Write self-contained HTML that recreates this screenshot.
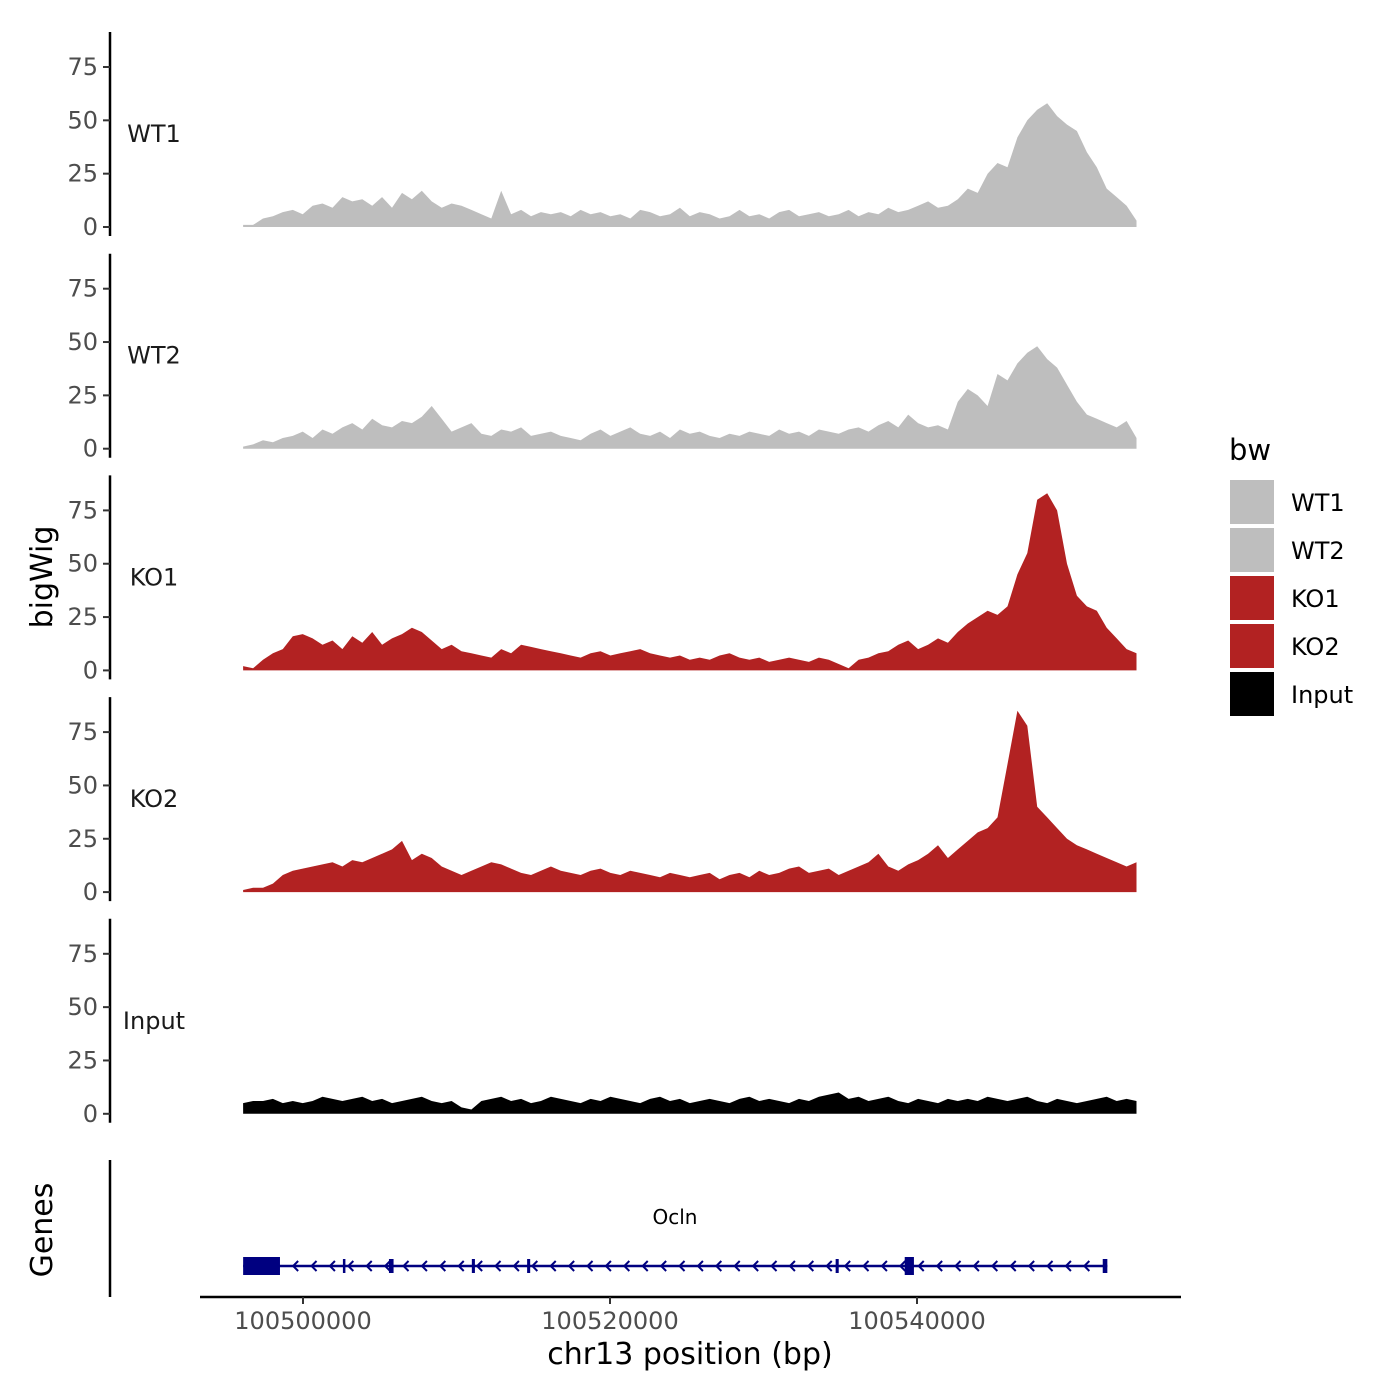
<!DOCTYPE html>
<html><head><meta charset="utf-8"><style>
html,body{margin:0;padding:0;background:#fff;}
svg{display:block;font-family:"DejaVu Sans","Liberation Sans",sans-serif;}
</style></head><body>
<svg id="chart" width="1400" height="1400" viewBox="0 0 1400 1400"></svg>
<script>
const trackNames = ["WT1","WT2","KO1","KO2","Input"];
const trackColors = ["#bebebe","#bebebe","#b22222","#b22222","#000000"];
const yTicks = [0,25,50,75];
const xTicks = [100500000,100520000,100540000];
const regionStart = 100496100;
const regionEnd = 100554300;
const wt1 = [1,1,4,5,7,8,6,10,11,9,14,12,13,10,14,9,16,13,17,12,9,11,10,8,6,4,17,6,8,5,7,6,7,5,8,6,7,5,6,4,8,7,5,6,9,5,7,6,4,5,8,5,6,4,7,8,5,6,7,5,6,8,5,7,6,9,7,8,10,12,9,10,13,18,16,25,30,28,42,50,55,58,52,48,45,35,28,18,14,10,3];
const wt2 = [1,2,4,3,5,6,8,5,9,7,10,12,9,14,11,10,13,12,15,20,14,8,10,12,7,6,9,8,10,6,7,8,6,5,4,7,9,6,8,10,7,6,8,5,9,7,8,6,5,7,6,8,7,6,9,7,8,6,9,8,7,9,10,8,11,13,10,16,12,10,11,9,22,28,25,20,35,32,40,45,48,42,38,30,22,16,14,12,10,13,5];
const ko1 = [2,1,5,8,10,16,17,15,12,14,10,16,13,18,12,15,17,20,18,14,10,12,9,8,7,6,10,8,12,11,10,9,8,7,6,8,9,7,8,9,10,8,7,6,7,5,6,5,7,8,6,5,6,4,5,6,5,4,6,5,3,1,5,6,8,9,12,14,10,12,15,13,18,22,25,28,26,30,45,55,80,83,75,50,35,30,28,20,15,10,8];
const ko2 = [1,2,2,4,8,10,11,12,13,14,12,15,14,16,18,20,24,15,18,16,12,10,8,10,12,14,13,11,9,8,10,12,10,9,8,10,11,9,8,10,9,8,7,9,8,7,8,9,6,8,9,7,10,8,9,11,12,9,10,11,8,10,12,14,18,12,10,13,15,18,22,16,20,24,28,30,35,60,85,78,40,35,30,25,22,20,18,16,14,12,14];
const inputSig = [5,6,6,7,5,6,5,6,8,7,6,7,8,6,7,5,6,7,8,6,5,6,3,2,6,7,8,6,7,5,6,8,7,6,5,7,6,8,7,6,5,7,8,6,7,5,6,7,6,5,7,8,6,7,6,5,7,6,8,9,10,7,8,6,7,8,6,5,7,6,5,7,6,7,6,8,7,6,7,8,6,5,7,6,5,6,7,8,6,7,6];
const geneStart = 100496100;
const geneEnd = 100552400;
const exons = [[100496100,100498500,1],[100502600,100502700,0.6],[100505600,100505900,0.6],[100511000,100511200,0.6],[100514600,100514800,0.6],[100534700,100534900,0.6],[100539200,100539800,1],[100552100,100552400,0.6]];
const series = [wt1,wt2,ko1,ko2,inputSig];

const NS="http://www.w3.org/2000/svg";
const svg=document.getElementById('chart');
function mk(tag,attrs,parent){const e=document.createElementNS(NS,tag);for(const k in attrs)e.setAttribute(k,attrs[k]);(parent||svg).appendChild(e);return e;}
const xScale = bp => 303 + (bp-100500000)*(307/20000);
const panelBase = i => 227 + i*221.7;
const yScale = (i,v) => panelBase(i) - v*(160/75);

series.forEach((data,i)=>{
  const g=mk('g',{});
  
  
  const n=data.length;
  let d='M'+xScale(regionStart)+','+panelBase(i);
  data.forEach((v,j)=>{const bp=regionStart+j*(regionEnd-regionStart)/(n-1);d+=' L'+xScale(bp).toFixed(1)+','+yScale(i,v).toFixed(1);});
  d+=' L'+xScale(regionEnd)+','+panelBase(i)+' Z';
  const p=mk('path',{d:d,fill:trackColors[i]},g);
  
  
  const ax=mk('line',{x1:110,x2:110,y1:panelBase(i)-195,y2:panelBase(i)+9,stroke:'#000','stroke-width':2.5},g);
  
  
  yTicks.forEach(t=>{
    const y=yScale(i,t);
    mk('line',{x1:103,x2:110,y1:y,y2:y,stroke:'#333','stroke-width':2},g);
    const tx=mk('text',{x:98,y:y+8,'text-anchor':'end','font-size':24,fill:'#4d4d4d'},g);
    tx.textContent=t;
    
    
  });
  const lb=mk('text',{x:154,y:panelBase(i)-85,'text-anchor':'middle','font-size':24,fill:'#1a1a1a'},g);
  lb.textContent=trackNames[i];
  
  
});

const gg=mk('g',{});


mk('line',{x1:110,x2:110,y1:1160,y2:1297,stroke:'#000','stroke-width':2.5},gg);
mk('line',{x1:200,x2:1181,y1:1297,y2:1297,stroke:'#000','stroke-width':2.5},gg);
const gy=1266;
mk('line',{x1:xScale(geneStart),x2:xScale(geneEnd),y1:gy,y2:gy,stroke:'#000080','stroke-width':2.5},gg);
for(let x=xScale(geneStart)+50;x<xScale(geneEnd)-5;x+=18.4){
  mk('path',{d:`M${x+5},${gy-5} L${x},${gy} L${x+5},${gy+5}`,stroke:'#000080','stroke-width':2,fill:'none'},gg);
}
exons.forEach(e=>{
  const h=e[2]==1?18:14;
  const r=mk('rect',{x:xScale(e[0]),y:gy-h/2,width:Math.max(2.5,xScale(e[1])-xScale(e[0])),height:h,fill:'#000080'},gg);
  
  
});
const gn=mk('text',{x:675,y:1224,'text-anchor':'middle','font-size':20,fill:'#000'},gg);
gn.textContent='Ocln';


xTicks.forEach(t=>{
  const x=xScale(t);
  mk('line',{x1:x,x2:x,y1:1297,y2:1304,stroke:'#333','stroke-width':2},gg);
  const tx=mk('text',{x:x,y:1329,'text-anchor':'middle','font-size':24,fill:'#4d4d4d'},gg);
  tx.textContent=t;
  
  
});
</script>
<script>
(function(){
const NS="http://www.w3.org/2000/svg";const svg=document.getElementById('chart');
function t(x,y,s,txt,name,extra){const e=document.createElementNS(NS,'text');e.setAttribute('x',x);e.setAttribute('y',y);e.setAttribute('font-size',s);e.setAttribute('fill','#000');if(extra)for(const k in extra)e.setAttribute(k,extra[k]);e.textContent=txt;


svg.appendChild(e);return e;}
t(690,1364,30,'chr13 position (bp)','x-axis-title',{'text-anchor':'middle'});
t(52,577,30,'bigWig','y-axis-title',{'text-anchor':'middle',transform:'rotate(-90 52 577)'});
t(52,1230,30,'Genes','genes-axis-title',{'text-anchor':'middle',transform:'rotate(-90 52 1230)'});
t(1229,460,29,'bw','legend-title');
const names=["WT1","WT2","KO1","KO2","Input"];const cols=["#bebebe","#bebebe","#b22222","#b22222","#000000"];
names.forEach((n,i)=>{
  const r=document.createElementNS(NS,'rect');
  r.setAttribute('x',1230);r.setAttribute('y',480+i*48);r.setAttribute('width',44);r.setAttribute('height',44);r.setAttribute('fill',cols[i]);
  
  
  svg.appendChild(r);
  t(1291,511+i*48,24,n,'legend-entry');
});
})();
</script>
</body></html>
